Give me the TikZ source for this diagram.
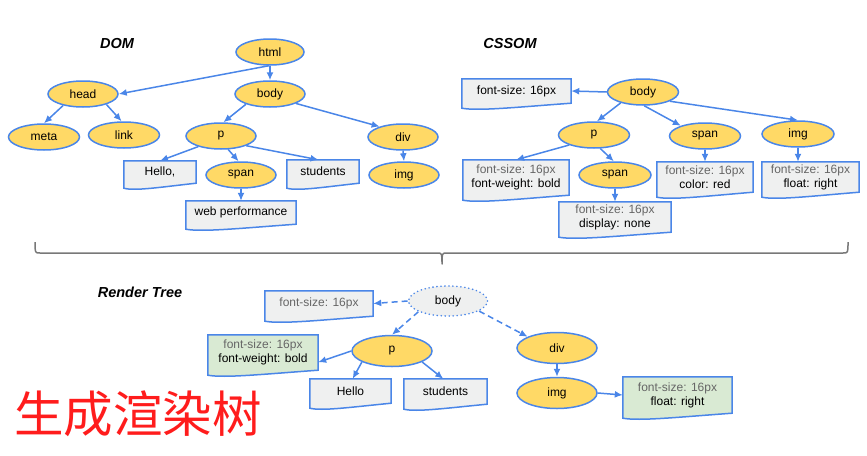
\documentclass[tikz,border=0pt]{standalone}
\usepackage{fontspec}
\setmainfont{Liberation Sans}
\newfontfamily\cjkfont{Noto Sans CJK SC}
\usetikzlibrary{arrows.meta,shapes.geometric,calc,backgrounds}
\definecolor{lineblue}{RGB}{74,134,232}
\definecolor{nodeyellow}{RGB}{255,217,102}
\definecolor{boxgrey}{RGB}{239,240,240}
\definecolor{boxgreen}{RGB}{217,234,211}
\definecolor{textgrey}{RGB}{102,102,102}
\definecolor{bracegrey}{RGB}{120,120,120}
\definecolor{titlered}{RGB}{255,28,28}
\newcommand\docoutline[2]{%
  \path[docline, fill=#2] (#1.north west) -- (#1.north east) -- (#1.south east)
   .. controls ($(#1.south east)!0.5!(#1.south west)+(0,4)$) and ($(#1.south east)!0.85!(#1.south west)+(0,8)$) .. ($(#1.south west)+(0,5)$) -- cycle;}
\newcommand\gtxt[1]{{\color{textgrey}#1}}
\begin{document}
\begin{tikzpicture}[x=1pt,y=-1pt,
  every node/.style={font=\fontsize{12}{14}\selectfont, inner sep=0pt},
  elnode/.style={ellipse, draw=lineblue, line width=1.5pt, fill=nodeyellow, minimum height=26pt, minimum width=70pt},
  docnode/.style={rectangle, align=center},
  docline/.style={draw=lineblue, line width=1.5pt, line join=miter},
  conn/.style={draw=lineblue, line width=1.5pt, -{Latex[length=8pt,width=7pt]}},
  dashconn/.style={conn, dash pattern=on 6pt off 4pt},
  ttl/.style={font=\fontsize{14.5}{16}\selectfont\bfseries\itshape}
]
\useasboundingbox (0,0) rectangle (867,455);

% titles
\node[ttl] (tdom) at (117,44) {DOM};
\node[ttl] (tcss) at (510,44) {CSSOM};
\node[ttl] (trt) at (140,292) {Render Tree};

% DOM tree
\node[elnode, minimum width=68pt] (html) at (270,52) {html};
\node[elnode] (head) at (83,94) {head};
\node[elnode] (body) at (270,94) {body};
\node[elnode, minimum width=71pt] (meta) at (44,137) {meta};
\node[elnode, minimum width=71pt] (link) at (124,135) {link};
\node[elnode] (p) at (221,136) {p};
\node[elnode] (div) at (403,137) {div};
\node[elnode] (span) at (241,175) {span};
\node[elnode] (img) at (404,175) {img};
\node[docnode, minimum width=72pt, minimum height=22pt] (hello) at (160,172) {Hello,};
\node[docnode, minimum width=72pt, minimum height=23pt] (students) at (323,171.5) {students};
\node[docnode, minimum width=110pt, minimum height=23pt] (web) at (241,212.5) {web performance};

\draw[conn] (html.265) -- (head.east);
\draw[conn] (html.south) -- (body.north);
\draw[conn] (head.-150) -- (meta.north);
\draw[conn] (head.-24) -- (link.100);
\draw[conn] (body.203) -- (p.80);
\draw[conn] (body.-20) -- (div.156);
\draw[conn] (p.205) -- (hello.north);
\draw[conn] (p.-62) -- (span.100);
\draw[conn] (p.-21) -- (students.111);
\draw[conn] (div.south) -- (img.north);
\draw[conn] (span.south) -- (web.north);

% CSSOM tree
\node[elnode, minimum width=71pt] (cbody) at (643,92) {body};
\node[elnode, minimum width=71pt] (cp) at (594,135) {p};
\node[elnode, minimum width=71pt] (cspan) at (705,136) {span};
\node[elnode, minimum width=72pt] (cimg) at (798,134) {img};
\node[elnode, minimum width=72pt] (cspantwo) at (615,175) {span};
\node[docnode, minimum width=109pt, minimum height=24pt] (cfs) at (516.5,91) {font-size: 16px};
\node[docnode, minimum width=106pt, minimum height=35pt] (cpbox) at (516,177.5) {\gtxt{font-size: 16px}\\font-weight: bold};
\node[docnode, minimum width=96pt, minimum height=30pt] (cspanbox) at (705,177) {\gtxt{font-size: 16px}\\color: red};
\node[docnode, minimum width=97pt, minimum height=30pt] (cimgbox) at (810.5,177) {\gtxt{font-size: 16px}\\float: right};
\node[docnode, minimum width=112pt, minimum height=30pt] (cspantwobox) at (615,217) {\gtxt{font-size: 16px}\\display: none};

\draw[conn] (cbody.west) -- (cfs.east);
\draw[conn] (cbody.206) -- (cp.78);
\draw[conn] (cbody.-85) -- (cspan.157);
\draw[conn] (cbody.-19) -- (cimg.north);
\draw[conn] (cp.202) -- (cpbox.north);
\draw[conn] (cp.-65) -- (cspantwo.95);
\draw[conn] (cspan.south) -- (cspanbox.north);
\draw[conn] (cimg.south) -- (cimg.south |- cimgbox.north);
\draw[conn] (cspantwo.south) -- (cspantwobox.north);

% brace
\draw[bracegrey, line width=1.5pt, line join=round]
  (35,242) .. controls (35,253) .. (40,253) -- (437,253)
  .. controls (442,253) .. (442,264) .. controls (442,253) .. (447,253)
  -- (843,253) .. controls (848,253) .. (848,242);

% Render tree
\node[ellipse, draw=lineblue, line width=1.8pt, fill=boxgrey, dash pattern=on 0pt off 4pt, line cap=round, minimum width=79pt, minimum height=30pt] (rbody) at (448,301) {body};
\node[elnode, minimum width=80pt, minimum height=31pt] (rp) at (392,351) {p};
\node[elnode, minimum width=80pt, minimum height=31pt] (rdiv) at (557,348) {div};
\node[elnode, minimum width=80pt, minimum height=31pt] (rimg) at (557,393) {img};
\node[docnode, minimum width=108pt, minimum height=25pt] (rfs) at (319,303.5) {\gtxt{font-size: 16px}};
\node[docnode, minimum width=110pt, minimum height=35pt] (rgreen) at (263,352.5) {\gtxt{font-size: 16px}\\font-weight: bold};
\node[docnode, minimum width=81pt, minimum height=24pt] (rhello) at (350.5,391) {Hello};
\node[docnode, minimum width=83pt, minimum height=25pt] (rstudents) at (445.5,391.5) {students};
\node[docnode, minimum width=109pt, minimum height=36pt] (rfloat) at (677.5,395) {\gtxt{font-size: 16px}\\float: right};

\draw[dashconn] (rbody.west) -- (rfs.east);
\draw[dashconn] (rbody.200) -- (rp.north);
\draw[dashconn] (rbody.-18) -- (rdiv.159);
\draw[conn] (rp.west) -- (rgreen.-10);
\draw[conn] (rp.200) -- (rhello.80);
\draw[conn] (rp.-20) -- (rstudents.100);
\draw[conn] (rdiv.south) -- (rimg.north);
\draw[conn] (rimg.east) -- (rfloat.west);

% Chinese caption
\node[text=titlered, font=\cjkfont\fontsize{49.5}{56}\selectfont] (zh) at (138,414) {生成渲染树};

% document-shape outlines
\begin{scope}[on background layer]
\docoutline{hello}{boxgrey}
\docoutline{students}{boxgrey}
\docoutline{web}{boxgrey}
\docoutline{cfs}{boxgrey}
\docoutline{cpbox}{boxgrey}
\docoutline{cspanbox}{boxgrey}
\docoutline{cimgbox}{boxgrey}
\docoutline{cspantwobox}{boxgrey}
\docoutline{rfs}{boxgrey}
\docoutline{rgreen}{boxgreen}
\docoutline{rhello}{boxgrey}
\docoutline{rstudents}{boxgrey}
\docoutline{rfloat}{boxgreen}
\end{scope}
\end{tikzpicture}
\end{document}
